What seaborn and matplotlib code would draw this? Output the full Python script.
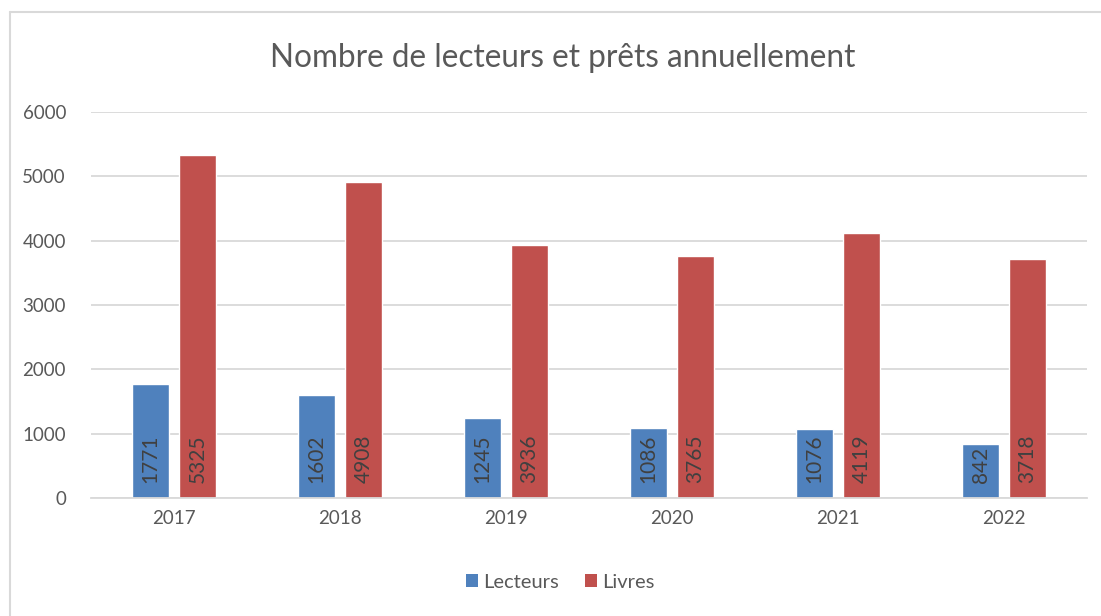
import matplotlib
matplotlib.use("Agg")
import matplotlib.pyplot as plt
import seaborn as sns
import pandas as pd
from matplotlib.lines import Line2D
from matplotlib.patches import Patch

years = ["2017", "2018", "2019", "2020", "2021", "2022"]
lecteurs = [1771, 1602, 1245, 1086, 1076, 842]
livres = [5325, 4908, 3936, 3765, 4119, 3718]
series_names = ["Lecteurs", "Livres"]
colors = ["#4F81BD", "#C0504D"]
title = "Nombre de lecteurs et prêts annuellement"

df = pd.DataFrame({
    "Année": years * 2,
    "Valeur": lecteurs + livres,
    "Série": [series_names[0]] * len(years) + [series_names[1]] * len(years),
})

sns.set_theme(style="white")
plt.rcParams["font.family"] = ["Lato", "DejaVu Sans"]
text_color = "#595959"

fig = plt.figure(figsize=(11.01, 6.16), dpi=100)
ax = fig.add_axes([91 / 1101, 118 / 616, 996 / 1101, 386 / 616])

sns.barplot(data=df, x="Année", y="Valeur", hue="Série", order=years,
            hue_order=series_names, palette=colors, width=0.566, gap=0.21,
            saturation=1, ax=ax, legend=False, errorbar=None)

ax.set_ylim(0, 6000)
ax.set_xlim(-0.5, len(years) - 0.5)
ax.set_yticks(range(0, 6001, 1000))
ax.yaxis.grid(True, color="#D9D9D9", linewidth=1.3)
ax.set_axisbelow(True)
for s in ["top", "right", "left"]:
    ax.spines[s].set_visible(False)
ax.spines["bottom"].set_color("#D9D9D9")
ax.spines["bottom"].set_linewidth(1.3)
ax.set_xlabel("")
ax.set_ylabel("")
ax.tick_params(axis="both", length=0, labelsize=13.5, colors=text_color)
ax.tick_params(axis="y", pad=18)
ax.tick_params(axis="x", pad=9)

# data labels inside base, rotated
for container in ax.containers:
    for bar, v in zip(container.patches, container.datavalues):
        ax.annotate(str(int(v)), xy=(bar.get_x() + bar.get_width() / 2, 0),
                    xytext=(0, 11), textcoords="offset points",
                    rotation=90, ha="center", va="bottom",
                    fontsize=15, color="#404040")

fig.text(563 / 1101, 1 - 58 / 616, title, ha="center", va="center",
         fontsize=22.7, color=text_color)

handles = [Patch(facecolor=c, edgecolor="none") for c in colors]
fig.legend(handles, series_names, loc="center", bbox_to_anchor=(560 / 1101, 1 - 582 / 616),
           ncol=2, frameon=False, fontsize=14.5, handlelength=0.6, handleheight=0.6,
           columnspacing=1.3, handletextpad=0.25, labelcolor=text_color)

fig.add_artist(Line2D([10 / 1101, 10 / 1101], [0, 1 - 12 / 616], color="#D9D9D9", linewidth=1.5,
                      transform=fig.transFigure))
fig.add_artist(Line2D([10 / 1101, 1], [1 - 12 / 616, 1 - 12 / 616], color="#D9D9D9", linewidth=1.5,
                      transform=fig.transFigure))

fig.savefig("out.png", dpi=100)
